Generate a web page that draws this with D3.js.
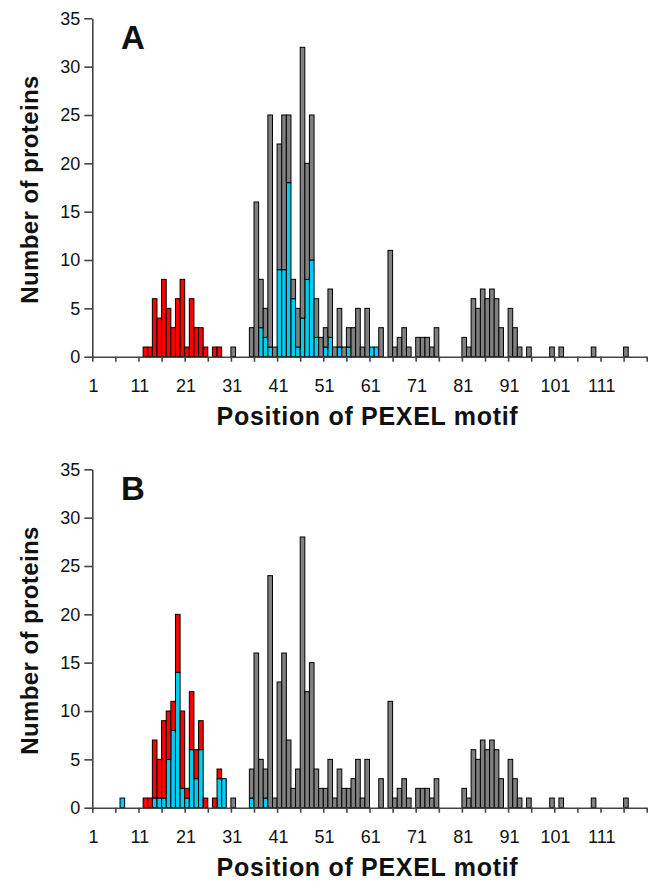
<!DOCTYPE html>
<html>
<head>
<meta charset="utf-8">
<script src="https://cdn.jsdelivr.net/npm/d3@7"></script>
<style>
  body { margin: 0; background: #fff; }
  text { font-family: "Liberation Sans", Arial, sans-serif; fill: #111; }
</style>
</head>
<body>
<div id="container"></div>
<script>
// positions 1..120 of the PEXEL motif
const positions = d3.range(1, 121);
const xTickLabels = [1, 11, 21, 31, 41, 51, 61, 71, 81, 91, 101, 111];
const yTickValues = [0, 5, 10, 15, 20, 25, 30, 35];

// panel A, number of proteins per position (20 values per row)
const aCyan = [
  0,0,0,0,0,0,0,0,0,0, 0,0,0,0,0,0,0,0,0,0,
  0,0,0,0,0,0,0,0,0,0, 0,0,0,0,0,0,3,2,1,0,
  9,9,18,6,1,4,8,10,2,0, 1,2,0,1,0,1,0,0,0,0,
  1,1,0,0,0,0,0,0,0,0, 0,0,0,0,0,0,0,0,0,0,
  0,0,0,0,0,0,0,0,0,0, 0,0,0,0,0,0,0,0,0,0,
  0,0,0,0,0,0,0,0,0,0, 0,0,0,0,0,0,0,0,0,0
];
const aRed = [
  0,0,0,0,0,0,0,0,0,0, 0,1,1,6,4,8,5,3,6,8,
  1,6,3,3,1,0,1,1,0,0, 0,0,0,0,0,0,0,0,0,0,
  0,0,0,0,0,0,0,0,0,0, 0,0,0,0,0,0,0,0,0,0,
  0,0,0,0,0,0,0,0,0,0, 0,0,0,0,0,0,0,0,0,0,
  0,0,0,0,0,0,0,0,0,0, 0,0,0,0,0,0,0,0,0,0,
  0,0,0,0,0,0,0,0,0,0, 0,0,0,0,0,0,0,0,0,0
];
const aGray = [
  0,0,0,0,0,0,0,0,0,0, 0,0,0,0,0,0,0,0,0,0,
  0,0,0,0,0,0,0,0,0,0, 1,0,0,0,3,16,5,3,24,1,
  13,16,7,2,4,28,12,15,4,2, 2,5,1,4,1,2,3,5,1,5,
  0,0,3,0,11,1,2,3,1,0, 2,2,2,1,3,0,0,0,0,0,
  2,1,6,5,7,6,7,6,3,0, 5,3,1,0,1,0,0,0,0,1,
  0,1,0,0,0,0,0,0,1,0, 0,0,0,0,0,1,0,0,0,0
];

// panel B
const bCyan = [
  0,0,0,0,0,0,1,0,0,0, 0,0,0,1,1,1,5,8,14,2,
  1,6,3,6,0,0,0,3,3,0, 0,0,0,0,1,0,0,1,0,0,
  0,0,0,0,0,0,0,0,0,0, 0,0,0,0,0,0,0,0,0,0,
  0,0,0,0,0,0,0,0,0,0, 0,0,0,0,0,0,0,0,0,0,
  0,0,0,0,0,0,0,0,0,0, 0,0,0,0,0,0,0,0,0,0,
  0,0,0,0,0,0,0,0,0,0, 0,0,0,0,0,0,0,0,0,0
];
const bRed = [
  0,0,0,0,0,0,0,0,0,0, 0,1,1,6,4,8,5,3,6,8,
  1,6,3,3,1,0,1,1,0,0, 0,0,0,0,0,0,0,0,0,0,
  0,0,0,0,0,0,0,0,0,0, 0,0,0,0,0,0,0,0,0,0,
  0,0,0,0,0,0,0,0,0,0, 0,0,0,0,0,0,0,0,0,0,
  0,0,0,0,0,0,0,0,0,0, 0,0,0,0,0,0,0,0,0,0,
  0,0,0,0,0,0,0,0,0,0, 0,0,0,0,0,0,0,0,0,0
];
const bGray = [
  0,0,0,0,0,0,0,0,0,0, 0,0,0,0,0,0,0,0,0,0,
  0,0,0,0,0,0,0,0,0,0, 1,0,0,0,3,16,5,3,24,1,
  13,16,7,2,4,28,12,15,4,2, 2,5,1,4,2,2,3,5,1,5,
  0,0,3,0,11,1,2,3,1,0, 2,2,2,1,3,0,0,0,0,0,
  2,1,6,5,7,6,7,6,3,0, 5,3,1,0,1,0,0,0,0,1,
  0,1,0,0,0,0,0,0,1,0, 0,0,0,0,0,1,0,0,0,0
];

const WIDTH = 652,
      HEIGHT = 889;

const plotLeft = 92.3,
      plotRight = 646.7;

const keys = ["cyan", "red", "gray"];
const colors = { cyan: "#00cdf2", red: "#ff0000", gray: "#808080" };

const svg = d3.select('#container').append('svg')
    .attr("width", WIDTH).attr("height", HEIGHT);

const xScale = d3.scaleBand()
                    .domain(positions)
                    .range([plotLeft, plotRight])
                    .padding(0);

// category boundaries, used for the tick marks every 5 positions
const xEdge = d3.scaleLinear()
                    .domain([0, positions.length])
                    .range([plotLeft, plotRight]);

const panel = (letter, cyan, red, gray, top, bottom) => {
    const yScale = d3.scaleLinear().domain([0, 35]).range([bottom, top]);

    const rows = positions.map((p, i) => ({ pos: p, cyan: cyan[i], red: red[i], gray: gray[i] }));
    const series = d3.stack().keys(keys)(rows);

    const g = svg.append("g");

    g.selectAll("g.series")
        .data(series)
        .join("g")
        .attr("class", "series")
        .attr("fill", (d) => colors[d.key])
        .selectAll("rect")
        .data((d) => d.filter((s) => s[1] > s[0]))
        .join("rect")
        .attr("x", (d) => xScale(d.data.pos))
        .attr("width", xScale.bandwidth())
        .attr("y", (d) => yScale(d[1]))
        .attr("height", (d) => yScale(d[0]) - yScale(d[1]))
        .attr("stroke", "#000")
        .attr("stroke-width", 1);

    const yAxis = d3.axisLeft(yScale)
                    .tickValues(yTickValues)
                    .tickSize(8)
                    .tickSizeOuter(0)
                    .tickPadding(4);

    const ya = g.append("g")
        .attr("transform", `translate(${plotLeft},0)`)
        .call(yAxis);
    ya.selectAll("path, line").attr("stroke", "#444").attr("stroke-width", 1.6);
    ya.selectAll("text")
        .style("font-size", "18px")
        .attr("fill", "#111");

    const xAxis = d3.axisBottom(xEdge)
                    .tickValues(d3.range(0, positions.length + 1, 5))
                    .tickSize(5)
                    .tickSizeOuter(0)
                    .tickFormat("");

    const xa = g.append("g")
        .attr("transform", `translate(0,${bottom})`)
        .call(xAxis);
    xa.selectAll("path, line").attr("stroke", "#444").attr("stroke-width", 1.6);

    g.selectAll("text.xlab")
        .data(xTickLabels)
        .join("text")
        .attr("class", "xlab")
        .attr("x", (d) => xScale(d) + xScale.bandwidth() / 2 - 1)
        .attr("y", bottom + 35)
        .style("text-anchor", "middle")
        .style("font-size", "18px")
        .text((d) => d);

    g.append("text")
        .attr("x", (plotLeft + plotRight) / 2 - 2)
        .attr("y", bottom + 68)
        .style("text-anchor", "middle")
        .style("font-size", "25px")
        .style("font-weight", "bold")
        .style("letter-spacing", "0.7px")
        .text("Position of PEXEL motif");

    g.append("text")
        .attr("transform", `translate(38, ${(top + bottom) / 2 + 2}) rotate(-90)`)
        .style("text-anchor", "middle")
        .style("font-size", "24px")
        .style("font-weight", "bold")
        .style("letter-spacing", "0.4px")
        .text("Number of proteins");

    g.append("text")
        .attr("x", 121)
        .attr("y", top + 31)
        .style("font-size", "33px")
        .style("font-weight", "bold")
        .text(letter);
};

panel("A", aCyan, aRed, aGray, 18.3, 356.7);
panel("B", bCyan, bRed, bGray, 469.3, 807.7);
</script>
</body>
</html>
